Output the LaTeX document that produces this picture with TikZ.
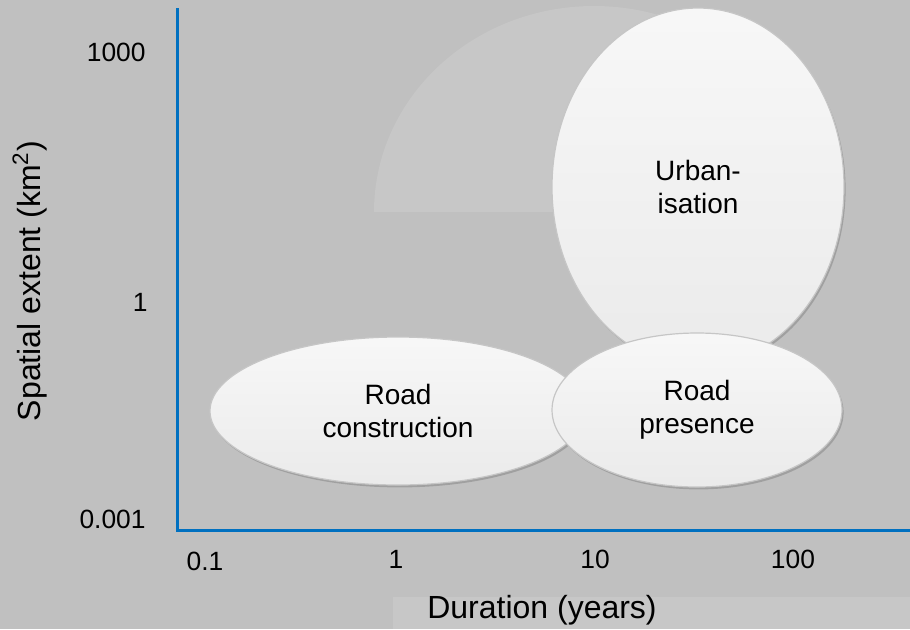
\documentclass[tikz,border=0pt]{standalone}
\usepackage{fontspec}
\setmainfont{Liberation Sans}
\usetikzlibrary{shapes.geometric,shadows}
\definecolor{bggray}{HTML}{C0C0C0}
\definecolor{bglight}{HTML}{C7C7C7}
\definecolor{axisblue}{HTML}{0070C0}
\definecolor{bubbleedge}{HTML}{C6C6C6}

\tikzset{
    bubble/.style={ellipse, draw=bubbleedge, line width=0.6pt, top color=white!97!black,
        bottom color=white!92!black, inner sep=0pt, align=center,
        font=\fontsize{14}{16.5}\selectfont,
        drop shadow={shadow xshift=0.8pt, shadow yshift=-1.2pt, opacity=0.35, fill=black!60}},
    ticklabel/.style={inner sep=0pt, font=\fontsize{13.2}{16}\selectfont},
    axislabel/.style={inner sep=0pt, font=\fontsize{16}{19}\selectfont}
}

\begin{document}
\begin{tikzpicture}[x=0.5pt, y=-0.5pt]
    \fill[bggray] (0,0) rectangle (910,629);
    \useasboundingbox (0,0) rectangle (910,629);
    \fill[bglight] (374,212) arc[start angle=180, end angle=0, x radius=110pt, y radius=103pt] -- cycle;
    \fill[bglight] (393,597) rectangle (910,629);

    \coordinate (ytop) at (177,8);
    \coordinate (origin) at (177,530);
    \coordinate (xend) at (910,530);
    \draw[axisblue, line width=1.5pt] (ytop) -- (origin) -- (xend);

    \node[ticklabel, anchor=east] (y1000) at (146,52) {1000};
    \node[ticklabel, anchor=east] (y1) at (148,302) {1};
    \node[ticklabel, anchor=east] (y0001) at (146,519) {0.001};
    \node[ticklabel] (x01) at (205,561) {0.1};
    \node[ticklabel] (x1) at (396,559) {1};
    \node[ticklabel] (x10) at (595,559) {10};
    \node[ticklabel] (x100) at (793,559) {100};
    \node[axislabel] (xlabel) at (542,610) {Duration (years)};
    \node[axislabel, rotate=90] (ylabel) at (30,281) {Spatial extent (km\textsuperscript{2})};

    \node[bubble, minimum width=146pt, minimum height=179pt] (urban) at (698,187) {Urban-\\isation};
    \node[bubble, minimum width=188pt, minimum height=74pt] (roadcon) at (398,411) {Road\\construction};
    \node[bubble, minimum width=145pt, minimum height=77pt] (roadpres) at (697,410) {Road\\presence};
\end{tikzpicture}
\end{document}
